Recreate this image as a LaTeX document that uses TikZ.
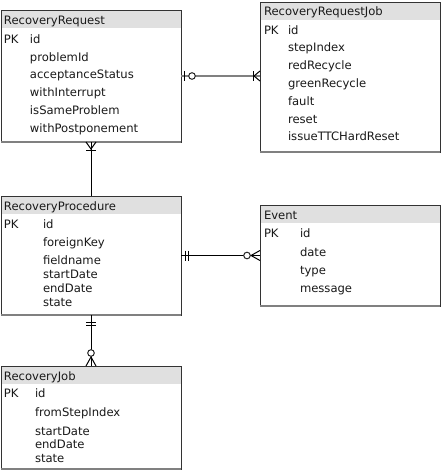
\documentclass[tikz,border=0pt]{standalone}
\usepackage{fontspec}
\setmainfont{DejaVu Sans}
\usetikzlibrary{calc}
\definecolor{hdrgray}{gray}{0.88}
\definecolor{relgray}{gray}{0.5}
\begin{document}
\begin{tikzpicture}[x=1pt,y=-1pt,
  tbl/.style={fill=white, anchor=north west, inner sep=0pt, outer sep=0pt, minimum width=180pt},
  hdr/.style={fill=hdrgray, anchor=north west, inner sep=0pt, outer sep=0pt, minimum width=180pt, minimum height=18pt},
  border/.style={draw=black!80, line width=1pt},
  shade/.style={draw=black!50, line width=1.6pt},
  txt/.style={anchor=mid west, inner sep=0pt, outer sep=0pt, yshift=-1.5pt, text=black!90, font=\fontsize{11.6}{13}\selectfont},
  rel/.style={line width=1pt, black},
  relg/.style={line width=2pt, relgray},
  tick/.style={line width=1pt, black},
  ring/.style={line width=1pt, draw=black!85, fill=white}]
\useasboundingbox (0,0) rectangle (441,472);

% ---------- RecoveryRequest ----------
\node[tbl, minimum height=132pt] (rr) at (1,10) {};
\node[hdr] (rrh) at (rr.north west) {};
\draw[border] (rr.north west) rectangle (rr.south east);
\draw[shade] (rr.south west) -- (rr.south east);
\node[txt] (rrt) at (4,20) {RecoveryRequest};
\node[txt] (rrpk) at (4,39) {PK};
\node[txt] (rr1) at (30,39) {id};
\node[txt] (rr2) at (30,57) {problemId};
\node[txt] (rr3) at (30,74) {acceptanceStatus};
\node[txt] (rr4) at (30,92) {withInterrupt};
\node[txt] (rr5) at (30,110) {isSameProblem};
\node[txt] (rr6) at (30,128) {withPostponement};

% ---------- RecoveryRequestJob ----------
\node[tbl, minimum height=150pt] (rrj) at (260,2) {};
\node[hdr] (rrjh) at (rrj.north west) {};
\draw[border] (rrj.north west) rectangle (rrj.south east);
\draw[shade] (rrj.south west) -- (rrj.south east);
\node[txt] (rrjt) at (264,11) {RecoveryRequestJob};
\node[txt] (rrjpk) at (264,30) {PK};
\node[txt] (rrj1) at (288,30) {id};
\node[txt] (rrj2) at (288,47) {stepIndex};
\node[txt] (rrj3) at (288,65) {redRecycle};
\node[txt] (rrj4) at (288,83) {greenRecycle};
\node[txt] (rrj5) at (288,101) {fault};
\node[txt] (rrj6) at (288,119) {reset};
\node[txt] (rrj7) at (288,136) {issueTTCHardReset};

% ---------- RecoveryProcedure ----------
\node[tbl, minimum height=119pt] (rp) at (1,196) {};
\node[hdr] (rph) at (rp.north west) {};
\draw[border] (rp.north west) rectangle (rp.south east);
\draw[shade] (rp.south west) -- (rp.south east);
\node[txt] (rpt) at (4,206) {RecoveryProcedure};
\node[txt] (rppk) at (4,224) {PK};
\node[txt] (rp1) at (43,224) {id};
\node[txt] (rp2) at (43,242) {foreignKey};
\node[txt] (rp3) at (43,260) {fieldname};
\node[txt] (rp4) at (43,274) {startDate};
\node[txt] (rp5) at (43,288) {endDate};
\node[txt] (rp6) at (43,302) {state};

% ---------- Event ----------
\node[tbl, minimum height=101pt] (ev) at (260,205) {};
\node[hdr] (evh) at (ev.north west) {};
\draw[border] (ev.north west) rectangle (ev.south east);
\draw[shade] (ev.south west) -- (ev.south east);
\node[txt] (evt) at (264,215) {Event};
\node[txt] (evpk) at (264,233) {PK};
\node[txt] (ev1) at (300,233) {id};
\node[txt] (ev2) at (300,252) {date};
\node[txt] (ev3) at (300,270) {type};
\node[txt] (ev4) at (300,288) {message};

% ---------- RecoveryJob ----------
\node[tbl, minimum height=103pt] (rj) at (1,366) {};
\node[hdr] (rjh) at (rj.north west) {};
\draw[border] (rj.north west) rectangle (rj.south east);
\draw[shade] (rj.south west) -- (rj.south east);
\node[txt] (rjt) at (4,376) {RecoveryJob};
\node[txt] (rjpk) at (4,393) {PK};
\node[txt] (rj1) at (35,393) {id};
\node[txt] (rj2) at (35,412) {fromStepIndex};
\node[txt] (rj3) at (35,431) {startDate};
\node[txt] (rj4) at (35,444) {endDate};
\node[txt] (rj5) at (35,458) {state};

% ---------- Connector 1: RecoveryRequest -- RecoveryRequestJob ----------
\coordinate (c1b) at (rr.east -| rrj.west);
\draw[relg] (rr.east) -- (c1b);
\draw[tick] ($(rr.east)+(3,-5)$) -- ($(rr.east)+(3,5)$);
\draw[ring] ($(rr.east)+(11,0)$) circle (3.3);
\draw[tick] ($(c1b)+(-7,-5)$) -- ($(c1b)+(-7,5)$);
\draw[tick] ($(c1b)+(0,-5)$) -- ($(c1b)+(-6,0)$) -- ($(c1b)+(0,5)$);

% ---------- Connector 2: RecoveryRequest -- RecoveryProcedure ----------
\draw[rel] (rr.south) -- (rp.north);
\draw[tick] ($(rr.south)+(-5,0)$) -- ($(rr.south)+(0,7)$) -- ($(rr.south)+(5,0)$);
\draw[tick] ($(rr.south)+(-5,8)$) -- ($(rr.south)+(5,8)$);

% ---------- Connector 3: RecoveryProcedure -- Event ----------
\coordinate (c3b) at (rp.east -| ev.west);
\draw[rel] (rp.east) -- (c3b);
\draw[tick] ($(rp.east)+(4,-5)$) -- ($(rp.east)+(4,5)$);
\draw[tick] ($(rp.east)+(7,-5)$) -- ($(rp.east)+(7,5)$);
\draw[tick] ($(c3b)+(0,-5)$) -- ($(c3b)+(-9,0)$) -- ($(c3b)+(0,5)$);
\draw[ring] ($(c3b)+(-13,0)$) circle (3.3);

% ---------- Connector 4: RecoveryProcedure -- RecoveryJob ----------
\draw[rel] (rp.south) -- (rj.north);
\draw[tick] ($(rp.south)+(-5,7)$) -- ($(rp.south)+(5,7)$);
\draw[tick] ($(rp.south)+(-5,10)$) -- ($(rp.south)+(5,10)$);
\draw[tick] ($(rj.north)+(-5,0)$) -- ($(rj.north)+(0,-9)$) -- ($(rj.north)+(5,0)$);
\draw[ring] ($(rj.north)+(0,-13)$) circle (3.3);
\end{tikzpicture}
\end{document}
